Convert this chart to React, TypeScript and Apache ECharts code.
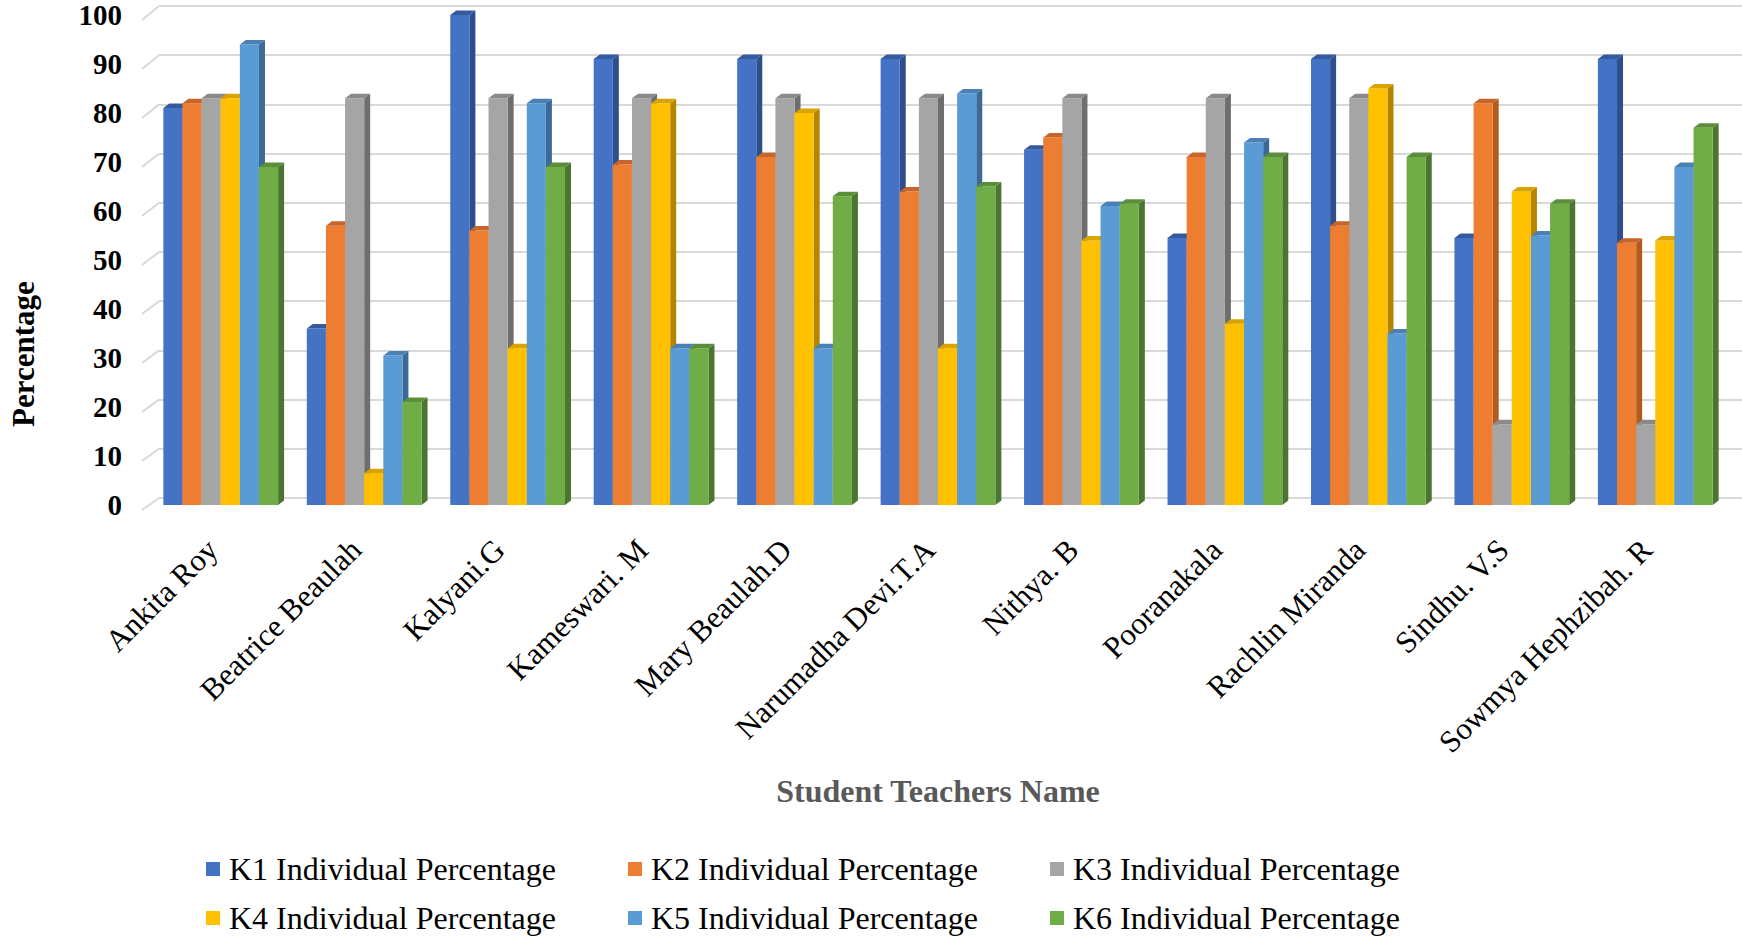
import React, { useEffect, useRef } from "react";
import * as echarts from "echarts";

const categories = [
  "Ankita Roy",
  "Beatrice Beaulah",
  "Kalyani.G",
  "Kameswari. M",
  "Mary Beaulah.D",
  "Narumadha Devi.T.A",
  "Nithya. B",
  "Pooranakala",
  "Rachlin Miranda",
  "Sindhu. V.S",
  "Sowmya Hephzibah. R",
];

const seriesNames = [
  "K1 Individual Percentage",
  "K2 Individual Percentage",
  "K3 Individual Percentage",
  "K4 Individual Percentage",
  "K5 Individual Percentage",
  "K6 Individual Percentage",
];

const k1 = [81, 36, 100, 91, 91, 91, 72.5, 54.5, 91, 54.5, 91];
const k2 = [82, 57, 56, 69.5, 71, 64, 75, 71, 57, 82, 53.5];
const k3 = [83, 83, 83, 83, 83, 83, 83, 83, 83, 16.5, 16.5];
const k4 = [83, 6.5, 32, 82, 80, 32, 54, 37, 85, 64, 54];
const k5 = [94, 30.5, 82, 32, 32, 84, 61, 74, 35, 55, 69];
const k6 = [69, 21, 69, 32, 63, 65, 61.5, 71, 71, 61.5, 77];
const values = [k1, k2, k3, k4, k5, k6];

const yTicks = [0, 10, 20, 30, 40, 50, 60, 70, 80, 90, 100];

const frontColors = ["#4472C4", "#ED7D31", "#A5A5A5", "#FFC000", "#5B9BD5", "#70AD47"];
const sideColors = ["#2E4F8C", "#B35A1F", "#6E6E6E", "#B38600", "#3C6A96", "#4B7530"];
const topColors = ["#35599E", "#C8652A", "#8A8A8A", "#D9A300", "#4A80B4", "#5B8E3A"];

const FONT = "'Liberation Serif', 'Times New Roman', serif";

export default function App() {
  const ref = useRef<HTMLDivElement>(null);

  useEffect(() => {
    if (!ref.current) return;
    const chart = echarts.init(ref.current, undefined, { renderer: "svg" });

    const makeRender = (k: number) => (params: any, api: any) => {
      const ci = api.value(0);
      const v = api.value(1);
      const p0 = api.coord([ci, 0]);
      const p1 = api.coord([ci, v]);
      const band = api.size([1, 0])[0];
      const bw = (band * 0.8) / 6;
      const x0 = p0[0] - band * 0.4 + k * bw;
      const x1 = x0 + bw;
      const yb = p0[1];
      const yt = p1[1];
      const dx = 6;
      const dy = 4.5;
      return {
        type: "group",
        children: [
          {
            type: "polygon",
            shape: { points: [[x1, yt], [x1 + dx, yt - dy], [x1 + dx, yb - dy], [x1, yb]] },
            style: { fill: sideColors[k] },
          },
          {
            type: "rect",
            shape: { x: x0, y: yt, width: bw, height: yb - yt },
            style: { fill: frontColors[k] },
          },
          {
            type: "polygon",
            shape: { points: [[x0, yt], [x0 + dx, yt - dy], [x1 + dx, yt - dy], [x1, yt]] },
            style: { fill: topColors[k] },
          },
        ],
      };
    };

    const series: any[] = seriesNames.map((name, k) => ({
      name,
      type: "custom",
      xAxisIndex: 0,
      yAxisIndex: 0,
      itemStyle: { color: frontColors[k] },
      renderItem: makeRender(k),
      encode: { x: 0, y: 1 },
      data: values[k].map((v, i) => [i, v]),
      z: 3,
    }));

    const legendCommon = {
      icon: "rect",
      itemWidth: 14,
      itemHeight: 14,
      itemGap: 72,
      textStyle: {
        fontFamily: FONT,
        fontSize: 32,
        color: "#000",
        padding: [0, 0, 0, 4],
      },
    };

    chart.setOption({
      animation: false,
      backgroundColor: "#fff",
      grid: [
        { left: 149, top: 15, width: 1578, height: 490 },
        { left: 159, right: 0, top: 6, height: 492 },
      ],
      xAxis: [
        {
          type: "category",
          gridIndex: 0,
          data: categories,
          axisLine: { show: false },
          axisTick: { show: false },
          axisLabel: {
            rotate: 45,
            interval: 0,
            margin: 31,
            padding: [0, 12, 0, 0],
            fontFamily: FONT,
            fontSize: 31,
            color: "#000",
          },
          name: "Student Teachers Name",
          nameLocation: "middle",
          nameGap: 270,
          nameTextStyle: {
            fontFamily: FONT,
            fontSize: 32,
            fontWeight: "bold",
            color: "#595959",
          },
        },
        { type: "value", gridIndex: 1, show: false, min: 0, max: 1 },
      ],
      yAxis: [
        {
          type: "value",
          gridIndex: 0,
          min: 0,
          max: 100,
          interval: 10,
          axisLine: { show: false },
          axisTick: { show: false },
          splitLine: { show: false },
          axisLabel: {
            margin: 27,
            fontFamily: FONT,
            fontSize: 29,
            fontWeight: "bold",
            color: "#000",
            formatter: (v: number) => (yTicks.includes(v) ? String(v) : ""),
          },
        },
        {
          type: "value",
          gridIndex: 1,
          min: 0,
          max: 100,
          interval: 10,
          axisLine: { show: false },
          axisTick: { show: false },
          axisLabel: { show: false },
          splitLine: { show: true, lineStyle: { color: "#D9D9D9", width: 2 } },
        },
      ],
      legend: [
        { ...legendCommon, data: seriesNames.slice(0, 3), left: 201, top: 848 },
        { ...legendCommon, data: seriesNames.slice(3, 6), left: 201, top: 897 },
      ],
      series,
    });

    // 3D diagonal connectors from front labels to back wall gridlines
    const graphics: any[] = [];
    const bx = 159;
    yTicks.forEach((v) => {
      const fy = chart.convertToPixel({ yAxisIndex: 0 }, v) as number;
      const by = chart.convertToPixel({ yAxisIndex: 1 }, v) as number;
      graphics.push({
        type: "line",
        shape: { x1: 142, y1: fy + 5, x2: bx, y2: by },
        style: { stroke: "#D9D9D9", lineWidth: 2 },
        z: 0,
      });
    });
    graphics.push({
      type: "text",
      x: 23,
      y: 354,
      rotation: Math.PI / 2,
      style: {
        text: "Percentage",
        fontFamily: FONT,
        fontSize: 31,
        fontWeight: "bold",
        fill: "#000",
        align: "center",
        verticalAlign: "middle",
      },
    });
    chart.setOption({ graphic: graphics });

    return () => chart.dispose();
  }, []);

  return (
    <div
      ref={ref}
      style={{ position: "fixed", left: 0, top: 0, width: 1742, height: 937 }}
    />
  );
}
